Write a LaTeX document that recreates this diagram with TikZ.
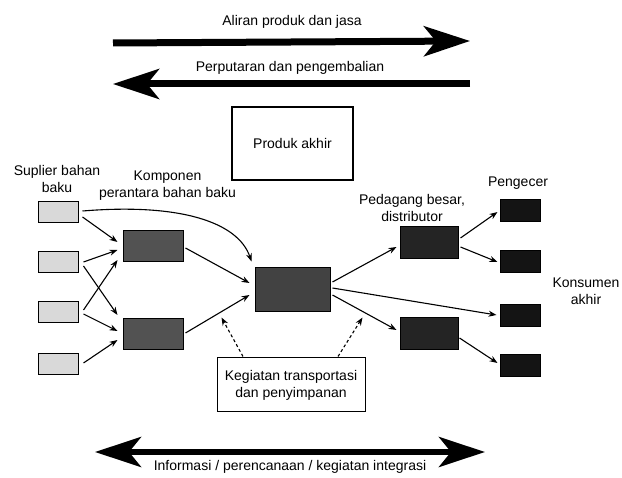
\documentclass[tikz,border=0pt]{standalone}
\usepackage{fontspec}
\setmainfont{Liberation Sans}
\usetikzlibrary{arrows.meta}
\begin{document}
\begin{tikzpicture}[x=1pt,y=-1pt,
  font=\fontsize{14}{17}\selectfont,
  lbl/.style={align=center,inner sep=0pt},
  blk/.style={draw=black,line width=1pt,inner sep=0pt},
  sup/.style={blk,fill=gray!30,minimum width=40pt,minimum height=21pt},
  mid/.style={blk,fill=black!68,minimum width=60pt,minimum height=31pt},
  core/.style={blk,fill=black!74,minimum width=75pt,minimum height=44pt},
  whole/.style={blk,fill=black!86,minimum width=58pt,minimum height=32pt},
  shop/.style={blk,fill=black!92,minimum width=40pt,minimum height=22pt},
  frame/.style={draw=black,line width=1.2pt,inner sep=0pt,align=center},
  flow/.style={line width=1.1pt,-{Stealth[length=8pt,width=6pt]}},
  aux/.style={line width=1.1pt,dash pattern=on 3pt off 2.5pt,-{Stealth[length=8pt,width=6pt]}},
  big/.style={line width=7pt,-{Stealth[length=46pt,width=30pt,inset=12pt]}},
  bigboth/.style={line width=6pt,{Stealth[length=46pt,width=30pt,inset=12pt]}-{Stealth[length=46pt,width=30pt,inset=12pt]}}
]
\useasboundingbox (0,0) rectangle (622,478);

% broad flows across the chain
\coordinate (f1a) at (113,43);
\coordinate (f1b) at (470,41);
\coordinate (f2a) at (470,84);
\coordinate (f2b) at (113,84);
\coordinate (f3a) at (95,452);
\coordinate (f3b) at (485,452);
\draw[big] (f1a) -- (f1b);
\draw[big] (f2a) -- (f2b);
\draw[bigboth] (f3a) -- (f3b);
\node[lbl] (t1) at (292,22) {Aliran produk dan jasa};
\node[lbl] (t2) at (290,68) {Perputaran dan pengembalian};
\node[lbl] (t3) at (290,467) {Informasi / perencanaan / kegiatan integrasi};

% product box
\node[frame,minimum width=121pt,minimum height=73pt] (prod) at (292.5,143.5) {Produk akhir};

% stages
\node[sup] (s1) at (58,212.5) {};
\node[sup] (s2) at (58,262.5) {};
\node[sup] (s3) at (58,312.5) {};
\node[sup] (s4) at (58,364) {};
\node[mid] (k1) at (153,246.5) {};
\node[mid] (k2) at (153,334) {};
\node[core] (c) at (292.5,290) {};
\node[whole] (p1) at (429,243) {};
\node[whole] (p2) at (429,333.5) {};
\node[shop] (r1) at (520,210.5) {};
\node[shop] (r2) at (520,262) {};
\node[shop] (r3) at (520,316) {};
\node[shop] (r4) at (520,366) {};

% stage labels
\node[lbl] (ls) at (57,179) {Suplier bahan\\baku};
\node[lbl] (lk) at (167.5,186) {Komponen\\perantara bahan baku};
\node[lbl] (lp) at (412,208) {Pedagang besar,\\distributor};
\node[lbl] (lr) at (518,183) {Pengecer};
\node[lbl] (lc) at (586,291) {Konsumen\\akhir};

% logistics box
\node[frame,line width=1pt,minimum width=148pt,minimum height=54pt] (keg) at (291,385) {Kegiatan transportasi\\dan penyimpanan};

% material flows
\draw[flow] ([shift={(4,4.5)}]s1.east) -- ([shift={(-5,-4.5)}]k1.west);
\draw[flow] ([shift={(4,-1.5)}]s1.east) .. controls (180,203) and (238,222) .. ([shift={(-3,-6)}]c.north west);
\draw[flow] ([shift={(5,-0.5)}]s2.east) -- ([shift={(-5,3.5)}]k1.west);
\draw[flow] ([shift={(5,3.5)}]s2.east) -- ([shift={(-5,-19)}]k2.west);
\draw[flow] ([shift={(5,-2.5)}]s3.east) -- ([shift={(-5,13.5)}]k1.west);
\draw[flow] ([shift={(5,1.5)}]s3.east) -- ([shift={(-5,-3)}]k2.west);
\draw[flow] ([shift={(5,-1)}]s4.east) -- ([shift={(-5,6)}]k2.west);
\draw[flow] ([shift={(2,1.5)}]k1.east) -- ([shift={(-5,-7)}]c.west);
\draw[flow] ([shift={(2,-1)}]k2.east) -- ([shift={(-5,5)}]c.west);
\draw[flow] ([shift={(2,-8)}]c.east) -- ([shift={(-3,4)}]p1.west);
\draw[flow] ([shift={(2,-2)}]c.east) -- ([shift={(-3,-1)}]r3.west);
\draw[flow] ([shift={(2,5)}]c.east) -- ([shift={(-3,-3.5)}]p2.west);
\draw[flow] ([shift={(2,-5)}]p1.east) -- ([shift={(-2,1.5)}]r1.west);
\draw[flow] ([shift={(2,4)}]p1.east) -- ([shift={(-2,0)}]r2.west);
\draw[flow] ([shift={(1,4.5)}]p2.east) -- ([shift={(-2,-3)}]r4.west);

% support links
\draw[aux] ([shift={(-48,-1)}]keg.north) -- ([shift={(-33,5)}]c.south west);
\draw[aux] ([shift={(47,-1)}]keg.north) -- ([shift={(32,5)}]c.south east);
\end{tikzpicture}
\end{document}
